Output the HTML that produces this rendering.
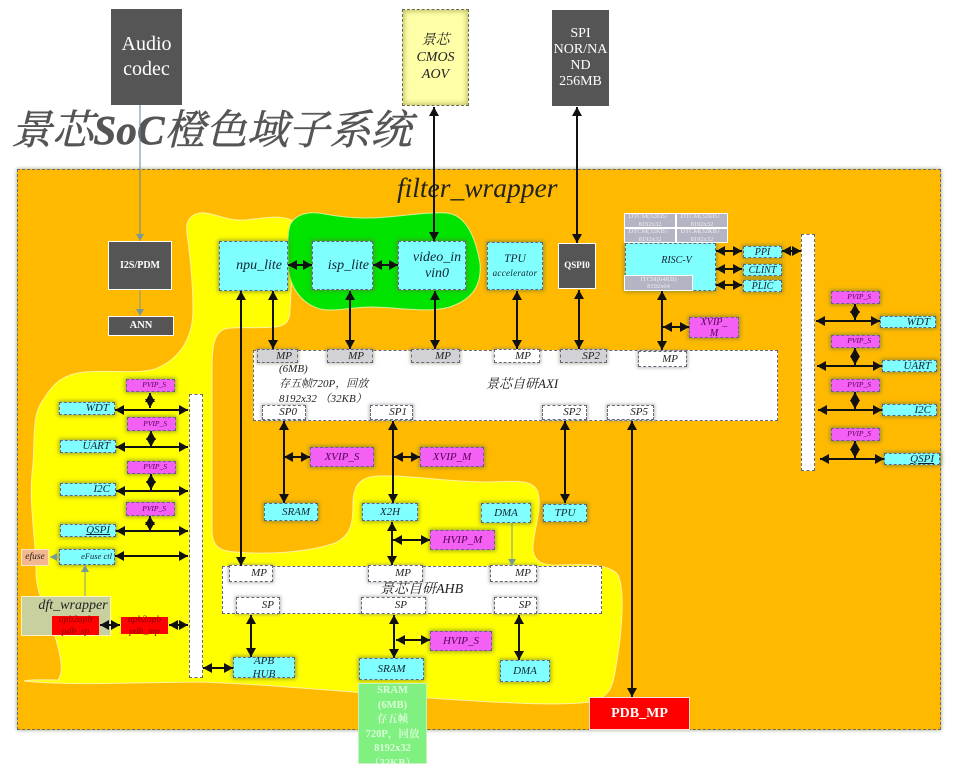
<!DOCTYPE html>
<html><head><meta charset="utf-8">
<style>
html,body{margin:0;padding:0;background:#fff}
#p{position:relative;width:954px;height:764px;overflow:hidden;background:#fff;font-family:"Liberation Serif","Noto Serif CJK SC",serif;filter:blur(.3px)}
.b{position:absolute;box-sizing:border-box;display:flex;align-items:center;justify-content:center;text-align:center;font-style:italic;color:#123;white-space:nowrap;line-height:1.1;border:1px dashed #667;box-shadow:0 0 4px 1px rgba(100,120,60,.65)}
.c{background:#80ffff}.m{background:#f45ff4;color:#505}.w{background:#fff;color:#222;box-shadow:0 0 3px 1px rgba(130,130,130,.55)}.g{background:#d2d2d6;color:#222;box-shadow:0 0 3px 1px rgba(130,130,100,.5)}
.d{background:#555;color:#fff;font-style:normal;border:1px solid #fff;box-shadow:none;font-weight:bold}
.mem{background:#b4b4c4;color:#eee;border:1px solid #fff;box-shadow:none;font-size:6.5px;font-style:normal;white-space:normal;line-height:7.5px;overflow:hidden}
svg{position:absolute;left:0;top:0}
.r{justify-content:flex-end;padding-right:5px}
</style></head><body><div id="p">
<div class="b" style="left:17px;top:169px;width:924px;height:561px;background:#ffba00;box-shadow:0 0 4px #9a8"></div>

<svg width="954" height="764" viewBox="0 0 954 764">
<path d="M187 233C185 220 192 212 205 213C220 215 228 221 245 220C262 219 280 213 295 222L290 310C290 322 285 327 272 327C255 329 235 326 225 329C215 332 212 345 212 367L212 530C212 545 218 551 235 552C270 555 310 552 335 543C350 536 353 525 353 505C353 485 360 477 378 476C410 475 450 482 485 482C510 482 530 478 537 490C543 505 535 525 533 545C532 560 540 566 560 565C585 564 610 564 618 575C625 590 622 630 617 660C613 685 612 697 590 702C560 706 500 703 430 698C340 691 260 684 200 682L130 683C100 684 50 684 24 681C34 679 50 680 58 680C66 670 58 645 50 620C42 600 36 590 36 570C36 540 28 500 33 465C35 435 32 415 43 400C52 385 62 374 85 372C110 370 140 374 155 369C178 360 193 340 193 310C193 285 190 255 187 233Z" fill="#ffff00" stroke="#fff2a0"/>
<path d="M290 225C296 213 310 211 325 214C345 218 365 219 387 217C410 215 430 212 447 213C465 215 475 235 480 263C482 285 472 298 455 305C435 314 405 308 373 307C350 307 335 312 320 309C300 303 288 285 288 262C288 245 287 235 290 225Z" fill="#00e400" stroke="#d8f090"/>
</svg>

<div class="b d" style="left:111px;top:9px;width:71px;height:96px;border:none;font-weight:normal;font-size:20px;line-height:25px">Audio<br>codec</div>
<div class="b" style="left:402px;top:9px;width:67px;height:97px;background:#ffffa8;box-shadow:inset 0 0 6px 1px #b8b860;font-size:14px;line-height:17px;color:#222;border:1px dashed #666">景芯<br>CMOS<br>AOV</div>
<div class="b d" style="left:552px;top:10px;width:57px;height:96px;border:none;font-weight:normal;font-size:14px;line-height:16px;white-space:normal">SPI<br>NOR/NA<br>ND<br>256MB</div>

<div style="position:absolute;left:11px;top:105px;font:italic 41px/50px 'Liberation Serif','Noto Serif CJK SC',serif;color:#555;white-space:nowrap;letter-spacing:.2px;-webkit-text-stroke:.6px #555">景芯<b>SoC</b>橙色域子系统</div>
<div style="position:absolute;left:397px;top:171px;font:italic 27.5px/34px 'Liberation Serif',serif;color:#222;white-space:nowrap">filter_wrapper</div>

<div class="b c r" style="left:219px;top:241px;width:69px;height:50px;font-size:14px">npu_lite</div>
<div class="b c r" style="left:312px;top:241px;width:61px;height:49px;font-size:14px;padding-right:3px">isp_lite</div>
<div class="b c" style="left:398px;top:241px;width:68px;height:49px;font-size:14px;line-height:16px;padding-left:10px">video_in<br>vin0</div>
<div class="b c" style="left:487px;top:242px;width:56px;height:48px;font-size:11.5px;line-height:14px"><div>TPU<br><span style="font-size:9px;letter-spacing:.3px">accelerator</span></div></div>
<div class="b d" style="left:558px;top:243px;width:38px;height:46px;font-size:9px">QSPI0</div>
<div class="b c" style="left:625px;top:243px;width:91px;height:48px;font-size:10px;padding-left:12px;align-items:flex-start;padding-top:11px">RISC-V</div>
<div class="b mem" style="left:624px;top:213px;width:52px;height:15px">DTCM(32KB）8192x32</div>
<div class="b mem" style="left:676px;top:213px;width:52px;height:15px">DTCM(32KB）8192x32</div>
<div class="b mem" style="left:624px;top:228px;width:52px;height:15px">DTCM(32KB）8192x32</div>
<div class="b mem" style="left:676px;top:228px;width:52px;height:15px">DTCM(32KB）8192x32</div>
<div class="b mem" style="left:624px;top:275px;width:69px;height:16px">ITCM(64KB)<br>8192x64</div>
<div class="b c" style="left:743px;top:246px;width:39px;height:12px;font-size:10px">PPI</div>
<div class="b c" style="left:743px;top:264px;width:39px;height:12px;font-size:10px">CLINT</div>
<div class="b c" style="left:743px;top:280px;width:39px;height:12px;font-size:10px">PLIC</div>

<div class="b w" style="left:801px;top:234px;width:14px;height:237px;box-shadow:none"></div>
<div class="b m r" style="left:831px;top:291px;width:49px;height:13px;font-size:7.5px;padding-right:8px">PVIP_S</div>
<div class="b m r" style="left:831px;top:335px;width:49px;height:13px;font-size:7.5px;padding-right:8px">PVIP_S</div>
<div class="b m r" style="left:831px;top:379px;width:49px;height:13px;font-size:7.5px;padding-right:8px">PVIP_S</div>
<div class="b m r" style="left:831px;top:428px;width:49px;height:13px;font-size:7.5px;padding-right:8px">PVIP_S</div>
<div class="b c r" style="left:880px;top:316px;width:56px;height:12px;font-size:11px">WDT</div>
<div class="b c r" style="left:882px;top:360px;width:55px;height:12px;font-size:11px">UART</div>
<div class="b c r" style="left:882px;top:404px;width:55px;height:12px;font-size:11px">I2C</div>
<div class="b c r" style="left:884px;top:453px;width:56px;height:12px;font-size:11px;text-decoration:underline">QSPI</div>
<div class="b m" style="left:689px;top:317px;width:50px;height:21px;font-size:10px;line-height:11px;white-space:normal">XVIP_<br>M</div>

<div class="b w" style="left:253px;top:350px;width:525px;height:71px;box-shadow:none"></div>
<div style="position:absolute;left:279px;top:362px;font:italic 11px/15px 'Liberation Serif','Noto Serif CJK SC',serif;color:#222;white-space:nowrap">(6MB)<br>存五帧720P，回放<br>8192x32 （32KB）</div>
<div style="position:absolute;left:486px;top:376px;font:italic 13px/16px 'Liberation Serif','Noto Serif CJK SC',serif;color:#222;white-space:nowrap">景芯自研AXI</div>
<div class="b g r" style="left:257px;top:349px;width:41px;height:14px;font-size:11px">MP</div>
<div class="b g r" style="left:327px;top:349px;width:46px;height:14px;font-size:11px;padding-right:8px">MP</div>
<div class="b g r" style="left:411px;top:349px;width:49px;height:14px;font-size:11px;padding-right:8px">MP</div>
<div class="b w r" style="left:494px;top:349px;width:46px;height:14px;font-size:11px;padding-right:8px">MP</div>
<div class="b g r" style="left:560px;top:349px;width:47px;height:14px;font-size:11px;padding-right:6px">SP2</div>
<div class="b w r" style="left:638px;top:351px;width:49px;height:16px;font-size:11px;padding-right:8px">MP</div>
<div class="b w r" style="left:262px;top:405px;width:44px;height:15px;font-size:11px;padding-right:8px">SP0</div>
<div class="b w r" style="left:370px;top:405px;width:43px;height:15px;font-size:11px">SP1</div>
<div class="b w r" style="left:542px;top:405px;width:45px;height:15px;font-size:11px">SP2</div>
<div class="b w r" style="left:607px;top:405px;width:47px;height:15px;font-size:11px">SP5</div>

<div class="b m" style="left:310px;top:447px;width:64px;height:20px;font-size:11px">XVIP_S</div>
<div class="b m" style="left:420px;top:447px;width:64px;height:20px;font-size:11px">XVIP_M</div>
<div class="b c" style="left:264px;top:503px;width:54px;height:18px;font-size:11px;padding-left:10px">SRAM</div>
<div class="b c" style="left:362px;top:503px;width:56px;height:18px;font-size:11px">X2H</div>
<div class="b c" style="left:481px;top:503px;width:50px;height:20px;font-size:11px">DMA</div>
<div class="b c" style="left:543px;top:504px;width:44px;height:18px;font-size:11px">TPU</div>
<div class="b m" style="left:430px;top:530px;width:65px;height:20px;font-size:11px">HVIP_M</div>

<div class="b w" style="left:222px;top:566px;width:380px;height:48px;box-shadow:none"></div>
<div style="position:absolute;left:380px;top:581px;font:italic 14px/18px 'Liberation Serif','Noto Serif CJK SC',serif;color:#222;white-space:nowrap">景芯自研AHB</div>
<div class="b w r" style="left:229px;top:565px;width:44px;height:17px;font-size:11px">MP</div>
<div class="b w r" style="left:368px;top:565px;width:55px;height:17px;font-size:11px;padding-right:11px">MP</div>
<div class="b w r" style="left:490px;top:565px;width:47px;height:17px;font-size:11px">MP</div>
<div class="b w r" style="left:236px;top:597px;width:44px;height:17px;font-size:11px">SP</div>
<div class="b w r" style="left:361px;top:597px;width:65px;height:17px;font-size:11px;padding-right:18px">SP</div>
<div class="b w r" style="left:494px;top:597px;width:43px;height:17px;font-size:11px">SP</div>
<div class="b c" style="left:233px;top:657px;width:62px;height:21px;font-size:11px;line-height:13px">APB<br>HUB</div>
<div class="b c" style="left:359px;top:658px;width:65px;height:22px;font-size:11px">SRAM</div>
<div class="b c" style="left:500px;top:660px;width:50px;height:22px;font-size:11px">DMA</div>
<div class="b m" style="left:430px;top:631px;width:62px;height:20px;font-size:11px">HVIP_S</div>
<div class="b" style="left:358px;top:683px;width:69px;height:81px;background:#80f080;color:#d8ffd8;font-style:normal;font-weight:bold;font-size:10.5px;line-height:14.5px;white-space:normal;border:1px solid #c8f0c0;box-shadow:none;align-items:flex-start">SRAM<br>(6MB)<br>存五帧<br>720P，回放<br>8192x32<br>（32KB）</div>
<div class="b" style="left:589px;top:697px;width:101px;height:33px;background:#ff0000;color:#fff;font-style:normal;font-weight:bold;font-size:14px;border:1px solid #fdd;box-shadow:none">PDB_MP</div>

<div class="b w" style="left:189px;top:394px;width:14px;height:284px;box-shadow:none"></div>
<div class="b m r" style="left:126px;top:379px;width:49px;height:13px;font-size:7.5px;padding-right:8px">PVIP_S</div>
<div class="b m r" style="left:127px;top:417px;width:49px;height:14px;font-size:7.5px;padding-right:8px">PVIP_S</div>
<div class="b m r" style="left:127px;top:461px;width:49px;height:13px;font-size:7.5px;padding-right:8px">PVIP_S</div>
<div class="b m r" style="left:126px;top:502px;width:49px;height:14px;font-size:7.5px;padding-right:8px">PVIP_S</div>
<div class="b c r" style="left:59px;top:402px;width:56px;height:13px;font-size:11px">WDT</div>
<div class="b c r" style="left:60px;top:440px;width:56px;height:13px;font-size:11px">UART</div>
<div class="b c r" style="left:60px;top:483px;width:56px;height:13px;font-size:11px">I2C</div>
<div class="b c r" style="left:60px;top:524px;width:56px;height:13px;font-size:11px;text-decoration:underline">QSPI</div>
<div class="b c r" style="left:59px;top:549px;width:56px;height:16px;font-size:8.5px;padding-right:2px">eFuse ctl</div>
<div class="b" style="left:21px;top:549px;width:28px;height:17px;background:#f4b890;border:1px solid #ffe8c0;box-shadow:none;font-size:9.5px;color:#222">efuse</div>
<div class="b" style="left:21px;top:596px;width:90px;height:40px;background:#c8d0a0;border:1px solid #fff4c0;box-shadow:none;font-size:14px;color:#222;align-items:flex-start;padding-top:1px;padding-left:14px">dft_wrapper</div>
<div class="b" style="left:52px;top:616px;width:47px;height:19px;background:#f00;border:none;box-shadow:none;font-size:9.5px;line-height:12px;color:#800">apb2apb<br>pdb_sp</div>
<div class="b" style="left:121px;top:617px;width:47px;height:17px;background:#f00;border:none;box-shadow:none;font-size:9.5px;line-height:12px;color:#800">apb2apb<br>pdb_mp</div>
<div class="b d" style="left:108px;top:241px;width:64px;height:49px;font-size:10px">I2S/PDM</div>
<div class="b d" style="left:108px;top:316px;width:66px;height:20px;font-size:10.5px">ANN</div>

<svg width="954" height="764" viewBox="0 0 954 764">
<defs>
<marker id="a" markerUnits="userSpaceOnUse" markerWidth="10" markerHeight="11" refX="9" refY="5.5" orient="auto-start-reverse"><path d="M0 .5L9 5.5L0 10.5Z" fill="#111"/></marker>
<marker id="g" markerUnits="userSpaceOnUse" markerWidth="8" markerHeight="8" refX="7" refY="4" orient="auto"><path d="M0 0L7 4L0 8Z" fill="#7a9a9a"/></marker>
</defs>
<g stroke="#111" stroke-width="2" fill="none">
<path d="M434 107V241" marker-start="url(#a)" marker-end="url(#a)"/>
<path d="M577 107V243" marker-start="url(#a)" marker-end="url(#a)"/>
<path d="M241 291V566" marker-start="url(#a)" marker-end="url(#a)"/>
<path d="M273 291V349" marker-start="url(#a)" marker-end="url(#a)"/>
<path d="M350 291V349" marker-start="url(#a)" marker-end="url(#a)"/>
<path d="M435 291V349" marker-start="url(#a)" marker-end="url(#a)"/>
<path d="M517 291V349" marker-start="url(#a)" marker-end="url(#a)"/>
<path d="M579 290V349" marker-start="url(#a)" marker-end="url(#a)"/>
<path d="M662 291V350" marker-start="url(#a)" marker-end="url(#a)"/>
<path d="M663 327H689" marker-start="url(#a)" marker-end="url(#a)"/>
<path d="M288 265H312" marker-start="url(#a)" marker-end="url(#a)"/>
<path d="M373 265H398" marker-start="url(#a)" marker-end="url(#a)"/>
<path d="M716 251H742" marker-start="url(#a)" marker-end="url(#a)"/>
<path d="M716 269H742" marker-start="url(#a)" marker-end="url(#a)"/>
<path d="M716 285H742" marker-start="url(#a)" marker-end="url(#a)"/>
<path d="M782 251H801" marker-start="url(#a)" marker-end="url(#a)"/>
<path d="M816 321H880" marker-start="url(#a)" marker-end="url(#a)"/>
<path d="M817 366H882" marker-start="url(#a)" marker-end="url(#a)"/>
<path d="M818 410H882" marker-start="url(#a)" marker-end="url(#a)"/>
<path d="M820 459H884" marker-start="url(#a)" marker-end="url(#a)"/>
<path d="M855 304V320" marker-start="url(#a)" marker-end="url(#a)"/>
<path d="M855 348V365" marker-start="url(#a)" marker-end="url(#a)"/>
<path d="M855 392V409" marker-start="url(#a)" marker-end="url(#a)"/>
<path d="M855 441V458" marker-start="url(#a)" marker-end="url(#a)"/>
<path d="M284 421V503" marker-start="url(#a)" marker-end="url(#a)"/>
<path d="M393 421V503" marker-start="url(#a)" marker-end="url(#a)"/>
<path d="M565 421V503" marker-start="url(#a)" marker-end="url(#a)"/>
<path d="M632 421V697" marker-start="url(#a)" marker-end="url(#a)"/>
<path d="M284 457H310" marker-start="url(#a)" marker-end="url(#a)"/>
<path d="M394 457H420" marker-start="url(#a)" marker-end="url(#a)"/>
<path d="M392 522V565" marker-start="url(#a)" marker-end="url(#a)"/>
<path d="M393 540H430" marker-start="url(#a)" marker-end="url(#a)"/>
<path d="M251 615V657" marker-start="url(#a)" marker-end="url(#a)"/>
<path d="M394 615V658" marker-start="url(#a)" marker-end="url(#a)"/>
<path d="M396 640H430" marker-start="url(#a)" marker-end="url(#a)"/>
<path d="M519 615V660" marker-start="url(#a)" marker-end="url(#a)"/>
<path d="M203 668H233" marker-start="url(#a)" marker-end="url(#a)"/>
<path d="M115 410H188" marker-start="url(#a)" marker-end="url(#a)"/>
<path d="M116 447H188" marker-start="url(#a)" marker-end="url(#a)"/>
<path d="M116 491H188" marker-start="url(#a)" marker-end="url(#a)"/>
<path d="M116 531H188" marker-start="url(#a)" marker-end="url(#a)"/>
<path d="M115 556H188" marker-start="url(#a)" marker-end="url(#a)"/>
<path d="M150 393V408" marker-start="url(#a)" marker-end="url(#a)"/>
<path d="M151 431V447" marker-start="url(#a)" marker-end="url(#a)"/>
<path d="M151 474V490" marker-start="url(#a)" marker-end="url(#a)"/>
<path d="M150 516V531" marker-start="url(#a)" marker-end="url(#a)"/>
<path d="M100 625H120" marker-start="url(#a)" marker-end="url(#a)"/>
<path d="M169 625H188" marker-start="url(#a)" marker-end="url(#a)"/>
</g>
<g stroke="#7a9a9a" stroke-width="1" fill="none">
<path d="M140 105V241" marker-end="url(#g)" stroke="#5a8aa0"/>
<path d="M140 290V316" marker-end="url(#g)"/>
<path d="M512 523V566" marker-end="url(#g)"/>
<path d="M85 596V565" marker-end="url(#g)"/>
<path d="M59 557H50" marker-end="url(#g)"/>
</g>
</svg>
</div></body></html>
